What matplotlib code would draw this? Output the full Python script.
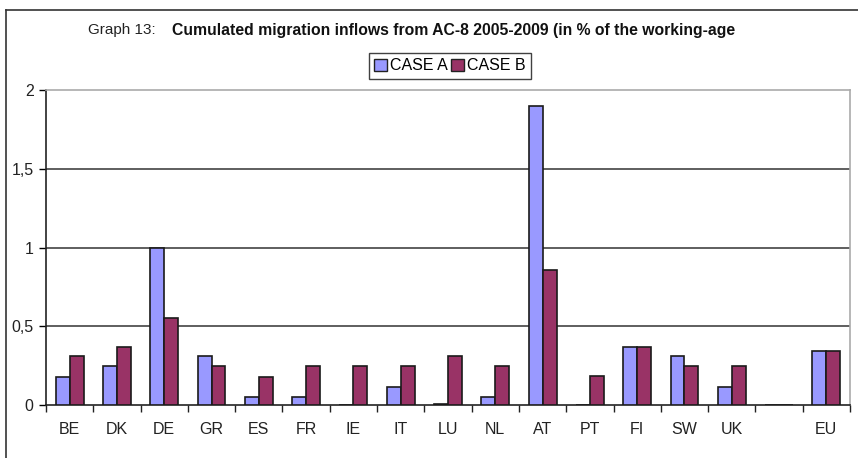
import matplotlib
matplotlib.use("Agg")
import matplotlib.pyplot as plt
import numpy as np
from matplotlib import font_manager
from matplotlib.patches import Patch
from matplotlib.ticker import FuncFormatter, FixedLocator

countries = ["BE", "DK", "DE", "GR", "ES", "FR", "IE", "IT", "LU", "NL",
             "AT", "PT", "FI", "SW", "UK", "", "EU"]
case_a = [0.18, 0.25, 1.00, 0.31, 0.05, 0.05, 0.0, 0.116, 0.005, 0.05,
          1.90, 0.0, 0.37, 0.31, 0.116, 0.0, 0.34]
case_b = [0.31, 0.37, 0.55, 0.25, 0.18, 0.25, 0.25, 0.25, 0.31, 0.25,
          0.86, 0.185, 0.37, 0.25, 0.25, 0.0, 0.34]
grid_levels = [0.5, 1.0, 1.5]

names = {f.name for f in font_manager.fontManager.ttflist}
font = "Liberation Sans Narrow" if "Liberation Sans Narrow" in names else "Liberation Sans"
plt.rcParams["font.family"] = [font, "DejaVu Sans"]

col_a = "#9999ff"
col_b = "#993366"

fig = plt.figure(figsize=(8.58, 4.58), dpi=100)
ax = fig.add_axes([46 / 858, 53 / 458, 804 / 858, 315 / 458])

x = np.arange(len(countries))
w = 0.295
ax.bar(x - w / 2, case_a, w, color=col_a, edgecolor="#1a1a1a", linewidth=1.2, zorder=3)
ax.bar(x + w / 2, case_b, w, color=col_b, edgecolor="#1a1a1a", linewidth=1.2, zorder=3)

ax.set_xlim(-0.5, len(countries) - 0.5)
ax.set_ylim(0, 2)
ax.set_yticks([0, 0.5, 1, 1.5, 2])
ax.yaxis.set_major_formatter(FuncFormatter(lambda v, p: f"{v:g}".replace(".", ",")))
for g in grid_levels:
    ax.axhline(g, color="#333333", linewidth=1.1, zorder=0)

ax.set_xticks(x)
ax.set_xticklabels(countries)
ax.xaxis.set_minor_locator(FixedLocator(np.arange(-0.5, len(countries), 1.0)))
ax.tick_params(axis="x", which="major", length=0, pad=12, labelsize=11.5, labelcolor="#222222")
ax.tick_params(axis="x", which="minor", length=5, width=1, direction="out", color="#222222")
ax.tick_params(axis="y", length=5, width=1, direction="out", labelsize=11.5, pad=4, labelcolor="#222222")

for s in ["top", "right"]:
    ax.spines[s].set_color("#aaaaaa")
    ax.spines[s].set_linewidth(1.2)
ax.spines["left"].set_color("#222222")
ax.spines["bottom"].set_color("#222222")
ax.spines["left"].set_linewidth(1.2)
ax.spines["bottom"].set_linewidth(1.2)

fig.text(88 / 858, 1 - 30 / 458, "Graph 13:", fontsize=11, va="center", color="#222222")
fig.text(172 / 858, 1 - 30 / 458,
         "Cumulated migration inflows from AC-8 2005-2009 (in % of the working-age",
         fontsize=11.3, fontweight="bold", va="center", color="#111111")

handles = [Patch(facecolor=col_a, edgecolor="#222222", label="CASE A"),
           Patch(facecolor=col_b, edgecolor="#222222", label="CASE B")]
fig.legend(handles=handles, loc="center", bbox_to_anchor=(450 / 858, 1 - 66 / 458),
           ncol=2, frameon=True, fancybox=False, edgecolor="#111111", fontsize=11.5,
           handlelength=0.8, handleheight=0.8, handletextpad=0.2, columnspacing=0.2,
           borderpad=0.35, borderaxespad=0)

# page border lines
fig.add_artist(plt.Line2D([6 / 858, 6 / 858], [0, 1 - 10 / 458], color="#333333", lw=1.2))
fig.add_artist(plt.Line2D([6 / 858, 1], [1 - 10 / 458, 1 - 10 / 458], color="#333333", lw=1.2))

fig.savefig("out.png", dpi=100)
